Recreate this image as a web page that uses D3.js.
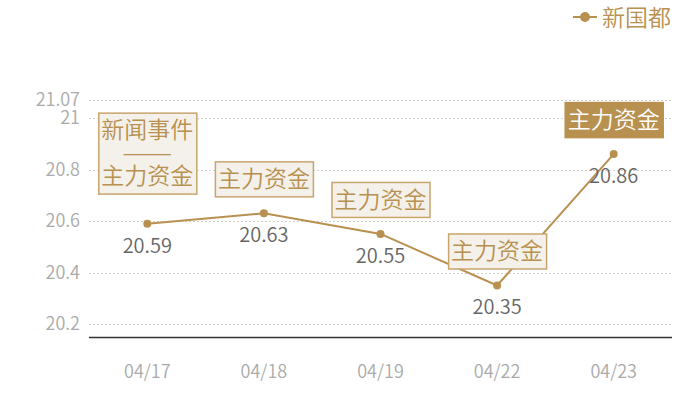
<!DOCTYPE html>
<html lang="zh">
<head>
    <meta charset="UTF-8">
    <title>新国都</title>
    <script src="https://d3js.org/d3.v7.min.js"></script>
    <style>
        body { margin: 0; background: #fff; font-family: "Noto Sans CJK SC", "Noto Sans", sans-serif; }
        text { font-weight: 350; }
        .grid line { stroke: #d0d0d0; stroke-dasharray: 2,2; }
        .tick-label { fill: #aaa; font-size: 18px; }
        .value-label { fill: #666; font-size: 20px; }
    </style>
</head>
<body>
    <svg width="700" height="400"></svg>
    <script>
        // data
        const dates = ["04/17", "04/18", "04/19", "04/22", "04/23"];
        const prices = [20.59, 20.63, 20.55, 20.35, 20.86];
        const notes = [
            ["新闻事件", "——", "主力资金"],
            ["主力资金"],
            ["主力资金"],
            ["主力资金"],
            ["主力资金"]
        ];
        const yTicks = [20.2, 20.4, 20.6, 20.8, 21, 21.07];
        const seriesName = "新国都";

        const gold = "#b8904f";
        const svg = d3.select("svg");

        const x = d3.scalePoint()
                    .domain(dates)
                    .range([89, 672])
                    .padding(0.5);

        const y = d3.scaleLinear()
                    .domain([20.15, 21.07])
                    .range([337, 100]);

        // grid lines
        svg.append("g")
           .attr("class", "grid")
           .selectAll("line")
           .data(yTicks)
           .join("line")
           .attr("x1", 89).attr("x2", 672)
           .attr("y1", d => Math.round(y(d)) + 0.5)
           .attr("y2", d => Math.round(y(d)) + 0.5);

        // y labels
        svg.append("g")
           .selectAll("text")
           .data(yTicks)
           .join("text")
           .attr("class", "tick-label")
           .attr("x", 80)
           .attr("y", d => y(d))
           .attr("dy", "0.35em")
           .attr("text-anchor", "end")
           .text(d => d);

        // x axis
        svg.append("line")
           .attr("x1", 89).attr("x2", 672)
           .attr("y1", 337.5).attr("y2", 337.5)
           .attr("stroke", "#333").attr("stroke-width", 1.5);

        svg.append("g")
           .selectAll("text")
           .data(dates)
           .join("text")
           .attr("class", "tick-label")
           .attr("x", d => x(d))
           .attr("y", 378)
           .attr("text-anchor", "middle")
           .text(d => d);

        const pts = dates.map((d, i) => ({ date: d, value: prices[i], note: notes[i], last: i === dates.length - 1 }));

        // line
        svg.append("path")
           .datum(pts)
           .attr("fill", "none")
           .attr("stroke", gold)
           .attr("stroke-width", 2)
           .attr("d", d3.line().x(d => x(d.date)).y(d => y(d.value)));

        // points
        svg.append("g")
           .selectAll("circle")
           .data(pts)
           .join("circle")
           .attr("cx", d => x(d.date))
           .attr("cy", d => y(d.value))
           .attr("r", 4)
           .attr("fill", gold);

        // value labels
        svg.append("g")
           .selectAll("text")
           .data(pts)
           .join("text")
           .attr("class", "value-label")
           .attr("x", d => x(d.date))
           .attr("y", d => y(d.value) + 29)
           .attr("text-anchor", "middle")
           .text(d => d.value);

        // annotation boxes
        const lineH = 23;
        pts.forEach(p => {
            const g = svg.append("g");
            const cx = x(p.date);
            const gap = p.note.length > 1 ? 30 : 17;
            const h = p.note.length * lineH + 12;
            const bottom = y(p.value) - gap;
            const top = bottom - h;
            const rect = g.append("rect");
            const texts = g.selectAll("text")
                .data(p.note)
                .join("text")
                .attr("transform", (d, i) => `translate(${cx},${top + 6 + lineH * (i + 0.5)})`)
                .attr("dy", "0.36em")
                .attr("text-anchor", "middle")
                .attr("font-size", 23)
                .attr("fill", p.last ? "#fff" : gold)
                .text(d => d);
            const w = d3.max(texts.nodes(), n => n.getComputedTextLength()) + 6;
            // separator dashes are a bit wider in the original
            texts.filter(d => /^—+$/.test(d))
                .attr("transform", function () { return this.getAttribute("transform") + " scale(1.3,1)"; });
            rect.attr("x", cx - w / 2 + 0.5)
                .attr("y", top + 0.5)
                .attr("width", w)
                .attr("height", h)
                .attr("fill", p.last ? gold : "#f4f0ea")
                .attr("stroke", p.last ? gold : "#c9a56e")
                .attr("stroke-width", 1.5);
        });

        // legend
        const lg = svg.append("g");
        lg.append("line")
          .attr("x1", 573).attr("x2", 597)
          .attr("y1", 17).attr("y2", 17)
          .attr("stroke", gold).attr("stroke-width", 2);
        lg.append("circle")
          .attr("cx", 585).attr("cy", 17).attr("r", 5)
          .attr("fill", gold);
        lg.append("text")
          .attr("x", 602).attr("y", 18)
          .attr("dy", "0.36em")
          .attr("font-size", 23)
          .attr("fill", gold)
          .text(seriesName);
    </script>
</body>
</html>
